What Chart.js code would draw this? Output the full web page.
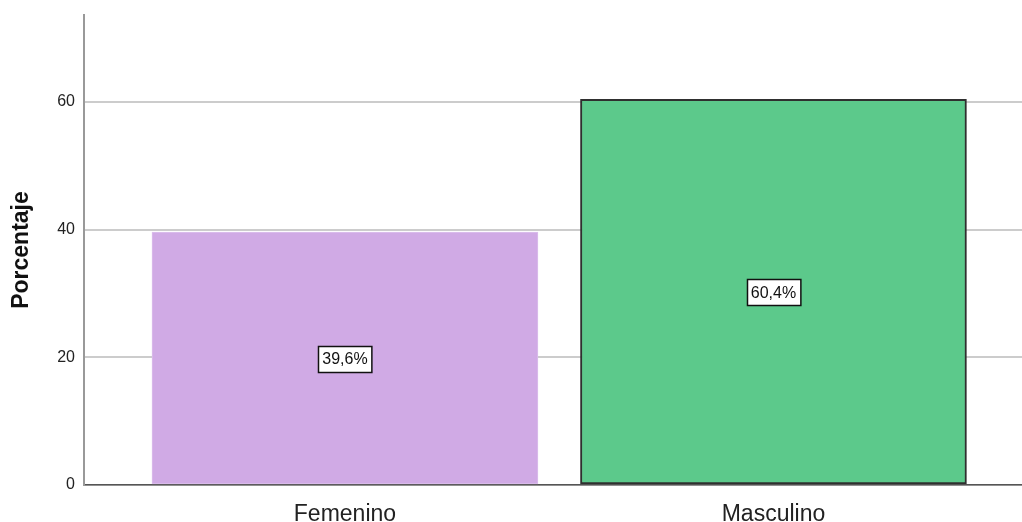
<!DOCTYPE html>
<html>
<head>
<meta charset="utf-8">
<script src="https://cdn.jsdelivr.net/npm/chart.js@4.4.0/dist/chart.umd.min.js"></script>
<style>
  html, body { margin: 0; padding: 0; background: #fff; }
  #wrap { width: 1022px; height: 522px; }
</style>
</head>
<body>
<div id="wrap"><canvas id="genderChart"></canvas></div>
<script>
const categories = ['Femenino', 'Masculino'];
const percentages = [39.6, 60.4];
const yTicks = [0, 20, 40, 60];

// etiqueta en el centro de cada barra
const boxLabels = {
    id: 'boxLabels',
    afterDatasetsDraw(chart) {
        const ctx = chart.ctx;
        const meta = chart.getDatasetMeta(0);
        ctx.save();
        ctx.font = '16px "Liberation Sans", Arial, sans-serif';
        ctx.textAlign = 'center';
        ctx.textBaseline = 'middle';
        meta.data.forEach((bar, i) => {
            const txt = percentages[i].toFixed(1).replace('.', ',') + '%';
            const yMid = chart.scales.y.getPixelForValue(percentages[i] / 2);
            const w = ctx.measureText(txt).width + 8;
            const h = 26;
            const x0 = Math.round(bar.x - w / 2) + 0.5;
            const y0 = Math.round(yMid - h / 2) + 0.5;
            ctx.fillStyle = '#fff';
            ctx.fillRect(x0, y0, w, h);
            ctx.strokeStyle = '#111';
            ctx.lineWidth = 1.5;
            ctx.strokeRect(x0, y0, w, h);
            ctx.fillStyle = '#111';
            ctx.fillText(txt, bar.x, yMid + 1);
        });
        ctx.restore();
    }
};

const ctx = document.getElementById('genderChart').getContext('2d');
new Chart(ctx, {
    type: 'bar',
    data: {
        datasets: [{
            data: percentages.map((v, i) => ({ x: i, y: v })),
            backgroundColor: ['#d0aae5', '#5cc98b'],
            borderColor: ['#dcc0ec', '#2f2f2f'],
            borderWidth: [1, 2],
            barThickness: 386,
            borderSkipped: false
        }]
    },
    options: {
        responsive: true,
        maintainAspectRatio: false,
        animation: false,
        layout: { padding: { top: 15, right: 0, left: 0, bottom: 0 } },
        plugins: {
            legend: { display: false },
            tooltip: { enabled: false }
        },
        scales: {
            x: {
                type: 'linear',
                offset: false,
                min: -0.609,
                max: 1.58,
                afterBuildTicks: axis => { axis.ticks = [{ value: 0 }, { value: 1 }]; },
                afterFit: scale => { scale.height = 37; scale.paddingLeft = 0; scale.paddingRight = 0; },
                grid: { display: false },
                border: { color: '#555', width: 1.5 },
                ticks: {
                    callback: v => categories[v],
                    color: '#222',
                    padding: 8,
                    maxRotation: 0,
                    font: { family: '"Liberation Sans", Arial, sans-serif', size: 23 }
                }
            },
            y: {
                min: 0,
                max: 73.6,
                afterBuildTicks: axis => { axis.ticks = yTicks.map(v => ({ value: v })); },
                afterFit: scale => { scale.width = 84; scale.paddingTop = 0; scale.paddingBottom = 0; },
                border: { color: '#999', width: 2 },
                grid: { color: '#cccccc', lineWidth: 2, drawTicks: false },
                title: {
                    display: true,
                    text: 'Porcentaje',
                    color: '#111',
                    padding: { top: 8, bottom: 0 },
                    font: { family: '"Liberation Sans", Arial, sans-serif', size: 23, weight: 'bold' }
                },
                ticks: {
                    color: '#222',
                    padding: 9,
                    font: { family: '"Liberation Sans", Arial, sans-serif', size: 16 }
                }
            }
        }
    },
    plugins: [boxLabels]
});
</script>
</body>
</html>
